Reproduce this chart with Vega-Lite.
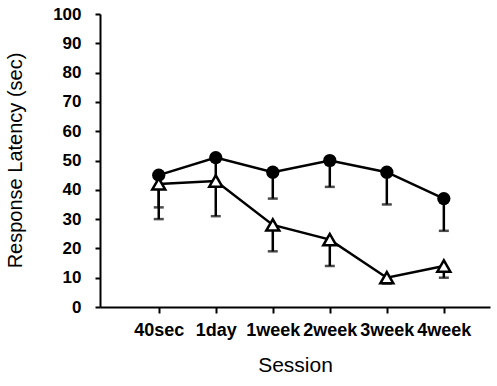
{
  "$schema": "https://vega.github.io/schema/vega-lite/v6.json",
  "width": 390,
  "height": 293,
  "autosize": "none",
  "padding": {"left": 100, "top": 14, "right": 7, "bottom": 79},
  "background": "white",
  "config": {
    "view": {"stroke": null},
    "font": "Liberation Sans",
    "axisY": {
      "tickCount": 10,
      "labelOverlap": false,
      "labelFont": "Liberation Sans",
      "labelFontSize": 17,
      "labelFontWeight": "bold",
      "labelColor": "black",
      "labelPadding": 14,
      "tickSize": 5,
      "tickWidth": 2,
      "tickColor": "black",
      "domainColor": "black",
      "domainWidth": 2,
      "grid": false,
      "titleFont": "Liberation Sans",
      "titleFontSize": 20,
      "titleFontWeight": "normal",
      "titleColor": "black",
      "titleX": -85,
      "titleY": 146,
      "titleBaseline": "middle",
      "titleAngle": -90
    }
  },
  "data": {
    "values": [
      {"session": "40sec", "group": "A", "mean": 45, "lower": 34},
      {"session": "1day", "group": "A", "mean": 51, "lower": 42},
      {"session": "1week", "group": "A", "mean": 46, "lower": 37},
      {"session": "2week", "group": "A", "mean": 50, "lower": 41},
      {"session": "3week", "group": "A", "mean": 46, "lower": 35},
      {"session": "4week", "group": "A", "mean": 37, "lower": 26},
      {"session": "40sec", "group": "B", "mean": 42, "lower": 30},
      {"session": "1day", "group": "B", "mean": 43, "lower": 31},
      {"session": "1week", "group": "B", "mean": 28, "lower": 19},
      {"session": "2week", "group": "B", "mean": 23, "lower": 14},
      {"session": "3week", "group": "B", "mean": 10, "lower": 8},
      {"session": "4week", "group": "B", "mean": 14, "lower": 10}
    ]
  },
  "encoding": {
    "x": {
      "field": "session",
      "type": "ordinal",
      "sort": ["40sec", "1day", "1week", "2week", "3week", "4week"],
      "scale": {"type": "point", "padding": 0.92, "align": 0.56},
      "axis": {
        "title": "Session",
        "titleFont": "Liberation Sans",
        "titleFontSize": 21,
        "titleFontWeight": "normal",
        "titleColor": "black",
        "titleY": 58,
        "titleBaseline": "middle",
        "labelAngle": 0,
        "labelFont": "Liberation Sans",
        "labelFontSize": 18,
        "labelFontWeight": "bold",
        "labelColor": "black",
        "labelPadding": 8,
        "labelOverlap": false,
        "tickSize": 6,
        "tickWidth": 2,
        "tickColor": "black",
        "domainColor": "black",
        "domainWidth": 2,
        "grid": false
      }
    }
  },
  "layer": [
    {
      "mark": {"type": "line", "color": "black", "strokeWidth": 2.5},
      "encoding": {
        "y": {
          "field": "mean",
          "type": "quantitative",
          "scale": {"domain": [0, 100], "nice": false},
          "title": "Response Latency (sec)"
        },
        "detail": {"field": "group"}
      }
    },
    {
      "mark": {"type": "rule", "color": "black", "strokeWidth": 2.5},
      "encoding": {
        "y": {"field": "mean", "type": "quantitative", "title": "Response Latency (sec)"},
        "y2": {"field": "lower"}
      }
    },
    {
      "mark": {"type": "tick", "color": "black", "thickness": 2.5, "size": 10, "orient": "horizontal"},
      "encoding": {
        "y": {"field": "lower", "type": "quantitative", "title": "Response Latency (sec)"}
      }
    },
    {
      "transform": [{"filter": "datum.group == 'A'"}],
      "mark": {"type": "point", "shape": "circle", "filled": true, "color": "black", "size": 175, "opacity": 1},
      "encoding": {
        "y": {"field": "mean", "type": "quantitative", "title": "Response Latency (sec)"}
      }
    },
    {
      "transform": [{"filter": "datum.group == 'B'"}],
      "mark": {"type": "point", "shape": "triangle-up", "filled": true, "fill": "white", "stroke": "black", "strokeWidth": 2.5, "size": 170, "opacity": 1},
      "encoding": {
        "y": {"field": "mean", "type": "quantitative", "title": "Response Latency (sec)"}
      }
    }
  ]
}
